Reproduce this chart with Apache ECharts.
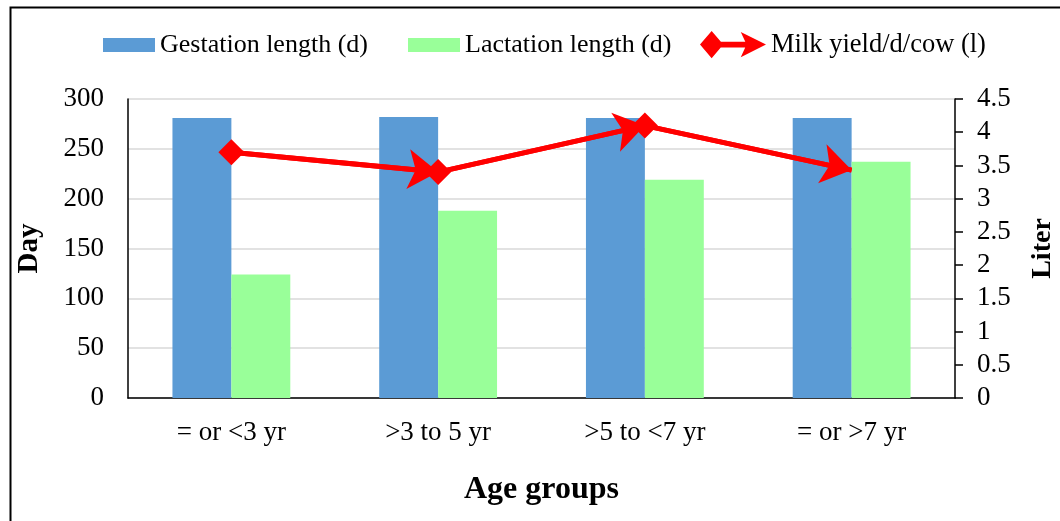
<!DOCTYPE html>
<html><head><meta charset="utf-8">
<script src="https://cdn.jsdelivr.net/npm/echarts@6/dist/echarts.min.js"></script>
<style>html,body{margin:0;padding:0;background:#fff}#c{width:1060px;height:521px}</style>
</head><body><div id="c"></div>
<script>
const categories = ['= or <3 yr', '>3 to 5 yr', '>5 to <7 yr', '= or >7 yr'];
const gestation = [281, 282, 281, 281];
const lactation = [124, 188, 219, 237];
const milkYield = [3.7, 3.4, 4.1, 3.43];
const leftTicks = {min: 0, max: 300, interval: 50};
const rightTicks = {min: 0, max: 4.5, interval: 0.5};

const F = '"Liberation Serif", "Times New Roman", serif';
const chart = echarts.init(document.getElementById('c'), null, {renderer: 'canvas'});

const milkData = milkYield.map((v, i) => ({
  value: v,
  symbol: i === milkYield.length - 1 ? 'none' : 'diamond'
}));
const segs = [];
for (let i = 0; i < milkYield.length - 1; i++) {
  segs.push([{coord: [i, milkYield[i]]}, {coord: [i + 1, milkYield[i + 1]]}]);
}
const milkIcon = 'path://M0 15 L12 1 L24 15 L12 29 Z M12 12 L52 12 L52 18 L12 18 Z M42 2 L68 15 L42 28 L48 15 Z';

chart.setOption({
  animation: false,
  textStyle: {fontFamily: F},
  graphic: [{
    type: 'rect', left: 8, top: 5,
    shape: {width: 1100, height: 600},
    style: {fill: 'none', stroke: '#000', lineWidth: 2}
  }],
  legend: [
    {data: [{name: 'Gestation length (d)', icon: 'rect'}], left: 98, top: 27, itemWidth: 52, itemHeight: 14, itemGap: 6,
     textStyle: {fontFamily: F, fontSize: 26, color: '#000'}},
    {data: [{name: 'Lactation length (d)', icon: 'rect'}], left: 403, top: 27, itemWidth: 52, itemHeight: 14,
     textStyle: {fontFamily: F, fontSize: 26, color: '#000'}},
    {data: [{name: 'Milk yield/d/cow (l)', icon: milkIcon}], left: 695, top: 26, itemWidth: 66, itemHeight: 29, itemGap: 4,
     textStyle: {fontFamily: F, fontSize: 26.5, color: '#000'}}
  ],
  grid: {left: 128, right: 105, top: 99, bottom: 123, containLabel: false, outerBoundsMode: 'none'},
  xAxis: {
    type: 'category', data: categories,
    name: 'Age groups', nameLocation: 'middle', nameGap: 76,
    nameTextStyle: {fontFamily: F, fontSize: 32, fontWeight: 'bold', color: '#000'},
    axisLine: {lineStyle: {color: '#000', width: 1.5}},
    axisTick: {show: false},
    axisLabel: {fontFamily: F, fontSize: 27, color: '#000', margin: 21}
  },
  yAxis: [{
    type: 'value', min: leftTicks.min, max: leftTicks.max, interval: leftTicks.interval,
    name: 'Day', nameLocation: 'middle', nameGap: 84, nameRotate: 90,
    nameTextStyle: {fontFamily: F, fontSize: 29, fontWeight: 'bold', color: '#000'},
    axisLine: {show: true, lineStyle: {color: '#000', width: 1.5}},
    axisTick: {show: false},
    axisLabel: {fontFamily: F, fontSize: 27, color: '#000', margin: 24},
    splitLine: {lineStyle: {color: '#d9d9d9', width: 1.5}}
  }, {
    type: 'value', min: rightTicks.min, max: rightTicks.max, interval: rightTicks.interval,
    name: 'Liter', nameLocation: 'middle', nameGap: 74, nameRotate: 90,
    nameTextStyle: {fontFamily: F, fontSize: 28, fontWeight: 'bold', color: '#000'},
    axisLine: {show: true, lineStyle: {color: '#000', width: 1.5}},
    axisTick: {show: true, length: 8, lineStyle: {color: '#000', width: 1.5}},
    axisLabel: {fontFamily: F, fontSize: 27, color: '#000', margin: 22},
    splitLine: {show: false}
  }],
  series: [{
    name: 'Gestation length (d)', type: 'bar', data: gestation,
    barGap: '0%', barCategoryGap: '43%',
    itemStyle: {color: '#5b9bd5'}
  }, {
    name: 'Lactation length (d)', type: 'bar', data: lactation,
    itemStyle: {color: '#99ff99'}
  }, {
    name: 'Milk yield/d/cow (l)', type: 'line', yAxisIndex: 1, data: milkData,
    symbolSize: 26, z: 5,
    itemStyle: {color: '#ff0000'},
    lineStyle: {color: '#ff0000', width: 5},
    markLine: {
      silent: true, symbol: ['none', 'arrow'], symbolSize: 30,
      label: {show: false},
      lineStyle: {color: '#ff0000', width: 5, type: 'solid'},
      data: segs
    }
  }]
});
</script></body></html>
